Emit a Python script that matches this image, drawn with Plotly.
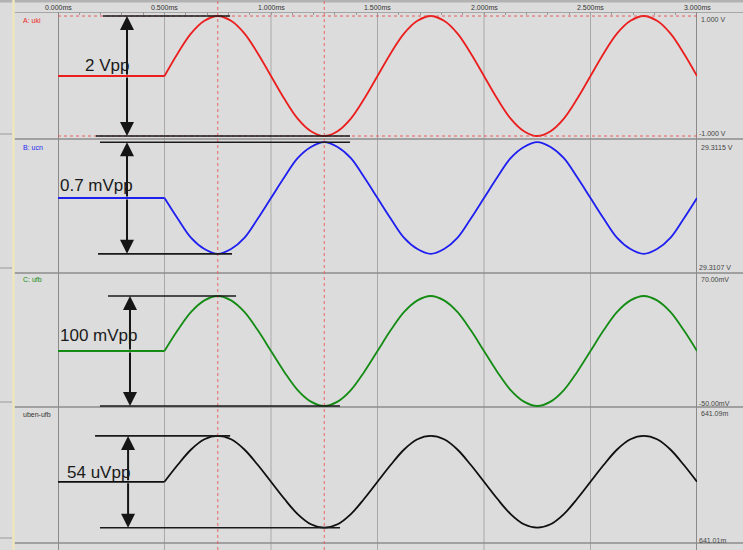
import plotly.graph_objects as go

# ---------------- data ----------------
times_ms = [0, 0.5, 0.5625, 0.625, 0.6875, 0.75, 0.8125, 0.875, 0.9375, 1.0,
            1.0625, 1.125, 1.1875, 1.25, 1.3125, 1.375, 1.4375, 1.5,
            1.5625, 1.625, 1.6875, 1.75, 1.8125, 1.875, 1.9375, 2.0,
            2.0625, 2.125, 2.1875, 2.25, 2.3125, 2.375, 2.4375, 2.5,
            2.5625, 2.625, 2.6875, 2.75, 2.8125, 2.875, 2.9375, 3.0]

uki_V = [0, 0,
         0.38, 0.71, 0.92, 1.00, 0.92, 0.71, 0.38, 0,
         -0.38, -0.71, -0.92, -1.00, -0.92, -0.71, -0.38, 0,
         0.38, 0.71, 0.92, 1.00, 0.92, 0.71, 0.38, 0,
         -0.38, -0.71, -0.92, -1.00, -0.92, -0.71, -0.38, 0,
         0.38, 0.71, 0.92, 1.00, 0.92, 0.71, 0.38, 0]

ucn_V = [29.31110, 29.31110,
         29.31097, 29.31085, 29.31078, 29.31075, 29.31078, 29.31085, 29.31097, 29.31110,
         29.31123, 29.31135, 29.31142, 29.31145, 29.31142, 29.31135, 29.31123, 29.31110,
         29.31097, 29.31085, 29.31078, 29.31075, 29.31078, 29.31085, 29.31097, 29.31110,
         29.31123, 29.31135, 29.31142, 29.31145, 29.31142, 29.31135, 29.31123, 29.31110,
         29.31097, 29.31085, 29.31078, 29.31075, 29.31078, 29.31085, 29.31097, 29.31110]

ufb_mV = [0, 0,
          19.0, 35.5, 46.0, 50.0, 46.0, 35.5, 19.0, 0,
          -19.0, -35.5, -46.0, -50.0, -46.0, -35.5, -19.0, 0,
          19.0, 35.5, 46.0, 50.0, 46.0, 35.5, 19.0, 0,
          -19.0, -35.5, -46.0, -50.0, -46.0, -35.5, -19.0, 0,
          19.0, 35.5, 46.0, 50.0, 46.0, 35.5, 19.0, 0]

uben_ufb_mV = [641.045, 641.045,
               641.055, 641.064, 641.070, 641.072, 641.070, 641.064, 641.055, 641.045,
               641.035, 641.026, 641.020, 641.018, 641.020, 641.026, 641.035, 641.045,
               641.055, 641.064, 641.070, 641.072, 641.070, 641.064, 641.055, 641.045,
               641.035, 641.026, 641.020, 641.018, 641.020, 641.026, 641.035, 641.045,
               641.055, 641.064, 641.070, 641.072, 641.070, 641.064, 641.055, 641.045]

time_ticks = [0, 0.5, 1.0, 1.5, 2.0, 2.5, 3.0]
time_labels = ["0.000ms", "0.500ms", "1.000ms", "1.500ms", "2.000ms", "2.500ms", "3.000ms"]
channel_names = ["A: uki", "B: ucn", "C: ufb", "uben-ufb"]
range_top_labels = ["1.000 V", "29.3115 V", "70.00mV", "641.09m"]
range_bot_labels = ["-1.000 V", "29.3107 V", "-50.00mV", "641.01m"]
pp_labels = ["2 Vpp", "0.7 mVpp", "100 mVpp", "54 uVpp"]
cursor_ms = [0.75, 1.25]

# ---------------- layout helpers ----------------
W, H = 743, 550
L, R, T, B = 58, 697, 12, 543


def pxx(x):
    return (x - L) / (R - L)


def pxy(y):
    return (B - y) / (B - T)


colors = ["rgb(235,30,30)", "rgb(30,30,240)", "rgb(20,140,20)", "rgb(15,15,15)"]
series = [uki_V, ucn_V, ufb_mV, uben_ufb_mV]
yaxes = ["y", "y2", "y3", "y4"]
domains = [[pxy(139), 1.0], [pxy(273), pxy(139)], [pxy(407), pxy(273)], [0.0, pxy(407)]]
yranges = [[-1.05, 1.067], [29.31063, 29.31147], [-50.9, 70.9], [641.009, 641.089]]

fig = go.Figure()
for vals, col, ya in zip(series, colors, yaxes):
    fig.add_trace(go.Scatter(x=times_ms[:2], y=vals[:2], mode="lines", yaxis=ya,
                             line=dict(color=col, width=1.8), showlegend=False,
                             hoverinfo="skip"))
    fig.add_trace(go.Scatter(x=times_ms[1:], y=vals[1:], mode="lines", yaxis=ya,
                             line=dict(color=col, width=1.8, shape="spline", smoothing=1),
                             showlegend=False, hoverinfo="skip"))

shapes = []
# header band and line
shapes.append(dict(type="rect", xref="paper", yref="paper", x0=pxx(0), x1=pxx(W),
                   y0=pxy(2.5), y1=pxy(0), fillcolor="#b2b2b2", line_width=0, layer="below"))
shapes.append(dict(type="line", xref="paper", yref="paper", x0=pxx(13), x1=pxx(W),
                   y0=pxy(12.5), y1=pxy(12.5), line=dict(color="#a6a6a6", width=1), layer="below"))
# vertical grid
for t in time_ticks:
    edge = t in (0, 3.0)
    shapes.append(dict(type="line", xref="x", yref="paper", x0=t, x1=t,
                       y0=pxy(H), y1=pxy(12),
                       line=dict(color="#8a8a8a" if edge else "#a9a9a9", width=2 if edge else 1),
                       layer="below"))
# panel dividers
for yy in [139, 273, 407, 543]:
    shapes.append(dict(type="line", xref="paper", yref="paper", x0=pxx(13), x1=pxx(W),
                       y0=pxy(yy), y1=pxy(yy), line=dict(color="#8c8c8c", width=1.5),
                       layer="below"))
    shapes.append(dict(type="line", xref="paper", yref="paper", x0=pxx(0), x1=pxx(12),
                       y0=pxy(yy - 5), y1=pxy(yy - 5), line=dict(color="#9a9a9a", width=1),
                       layer="below"))
# left cream line
shapes.append(dict(type="line", xref="paper", yref="paper", x0=pxx(13.5), x1=pxx(13.5),
                   y0=pxy(H), y1=pxy(0), line=dict(color="#eee6bd", width=2.5), layer="below"))
# dotted limit lines in panel A
for v in [1.0, -1.0]:
    shapes.append(dict(type="line", xref="x", yref="y", x0=0, x1=3.0, y0=v, y1=v,
                       line=dict(color="rgba(235,70,70,0.85)", width=1, dash="dot")))
# cursors
for c in cursor_ms:
    shapes.append(dict(type="line", xref="x", yref="paper", x0=c, x1=c,
                       y0=pxy(H), y1=pxy(0),
                       line=dict(color="rgba(235,80,80,0.85)", width=1, dash="dot")))

# measurement lines: (yaxis, value, x0, x1)
meas = [
    ("y", 1.0, 0.211, 0.808), ("y", -1.0, 0.178, 1.371),
    ("y2", 29.31145, 0.197, 1.371), ("y2", 29.31075, 0.188, 0.817),
    ("y3", 50.0, 0.235, 0.836), ("y3", -50.0, 0.197, 1.324),
    ("y4", 641.072, 0.174, 0.808), ("y4", 641.018, 0.197, 1.324),
]
for ya, v, a, b in meas:
    shapes.append(dict(type="line", xref="x", yref=ya, x0=a, x1=b, y0=v, y1=v,
                       line=dict(color="#1a1a1a", width=1.6)))

annotations = []
for t, lab in zip(time_ticks, time_labels):
    annotations.append(dict(x=t, y=pxy(7.5), xref="x", yref="paper", text=lab,
                            showarrow=False, font=dict(size=7, color="#333333",
                                                       family="Arial, Liberation Sans"),
                            xanchor="center", yanchor="middle"))

name_y = [20, 147, 280, 414]
for nm, col, yy in zip(channel_names, colors, name_y):
    annotations.append(dict(x=pxx(21), y=pxy(yy), xref="paper", yref="paper", text=nm,
                            showarrow=False, xanchor="left", yanchor="middle",
                            font=dict(size=7, color=col if nm != "uben-ufb" else "#333333",
                                      family="Arial, Liberation Sans")))

top_y = [19, 147, 280, 413]
bot_y = [133, 267, 403, 540]
for lab, yy in zip(range_top_labels, top_y):
    annotations.append(dict(x=pxx(699), y=pxy(yy), xref="paper", yref="paper", text=lab,
                            showarrow=False, xanchor="left", yanchor="middle",
                            font=dict(size=7, color="#444444", family="Arial, Liberation Sans")))
for lab, yy in zip(range_bot_labels, bot_y):
    annotations.append(dict(x=pxx(697), y=pxy(yy), xref="paper", yref="paper", text=lab,
                            showarrow=False, xanchor="left", yanchor="middle",
                            font=dict(size=7, color="#444444", family="Arial, Liberation Sans")))

# arrows: (yaxis, x, top, bottom)
arrows = [
    ("y", 0.324, 1.0, -1.0),
    ("y2", 0.324, 29.31145, 29.31075),
    ("y3", 0.338, 50.0, -50.0),
    ("y4", 0.329, 641.072, 641.018),
]
for ya, x, top, bot in arrows:
    mid = (top + bot) / 2
    for end in (top, bot):
        annotations.append(dict(x=x, y=end, xref="x", yref=ya, ax=x, ay=mid,
                                axref="x", ayref=ya, text="", showarrow=True,
                                arrowhead=2, arrowsize=1.4, arrowwidth=2,
                                arrowcolor="#151515", standoff=0))

# pp texts: (yaxis, x, y)
pp_pos = [("y", 0.117, 0.167), ("y2", 0.0, 29.31118), ("y3", 0.0, 14.5), ("y4", 0.033, 641.0503)]
for lab, (ya, x, y) in zip(pp_labels, pp_pos):
    annotations.append(dict(x=x, y=y, xref="x", yref=ya, text=lab, showarrow=False,
                            xanchor="left", yanchor="middle",
                            font=dict(size=17, color="#1a1a1a", family="Arial, Liberation Sans")))

layout = dict(
    width=W, height=H,
    margin=dict(l=L, r=W - R, t=T, b=H - B, pad=0),
    paper_bgcolor="#dcdcdc", plot_bgcolor="#dcdcdc",
    showlegend=False,
    xaxis=dict(range=[0, 3.0], showgrid=False, zeroline=False, showticklabels=False,
               ticks="inside", tick0=0, dtick=0.1, ticklen=3, tickcolor="#9a9a9a",
               side="top", anchor="y", showline=False, fixedrange=True),
    shapes=shapes, annotations=annotations,
)
for i, (ya, dom, rng) in enumerate(zip(yaxes, domains, yranges)):
    key = "yaxis" if i == 0 else f"yaxis{i + 1}"
    layout[key] = dict(domain=dom, range=rng, showgrid=False, zeroline=False,
                       showticklabels=False, ticks="", showline=False, fixedrange=True,
                       anchor="x")
fig.update_layout(**layout)
fig.write_html("out.html", config={"displayModeBar": False},
               post_script="document.body.style.margin='0';document.body.style.padding='0';"
                           "document.body.style.overflow='hidden';")
